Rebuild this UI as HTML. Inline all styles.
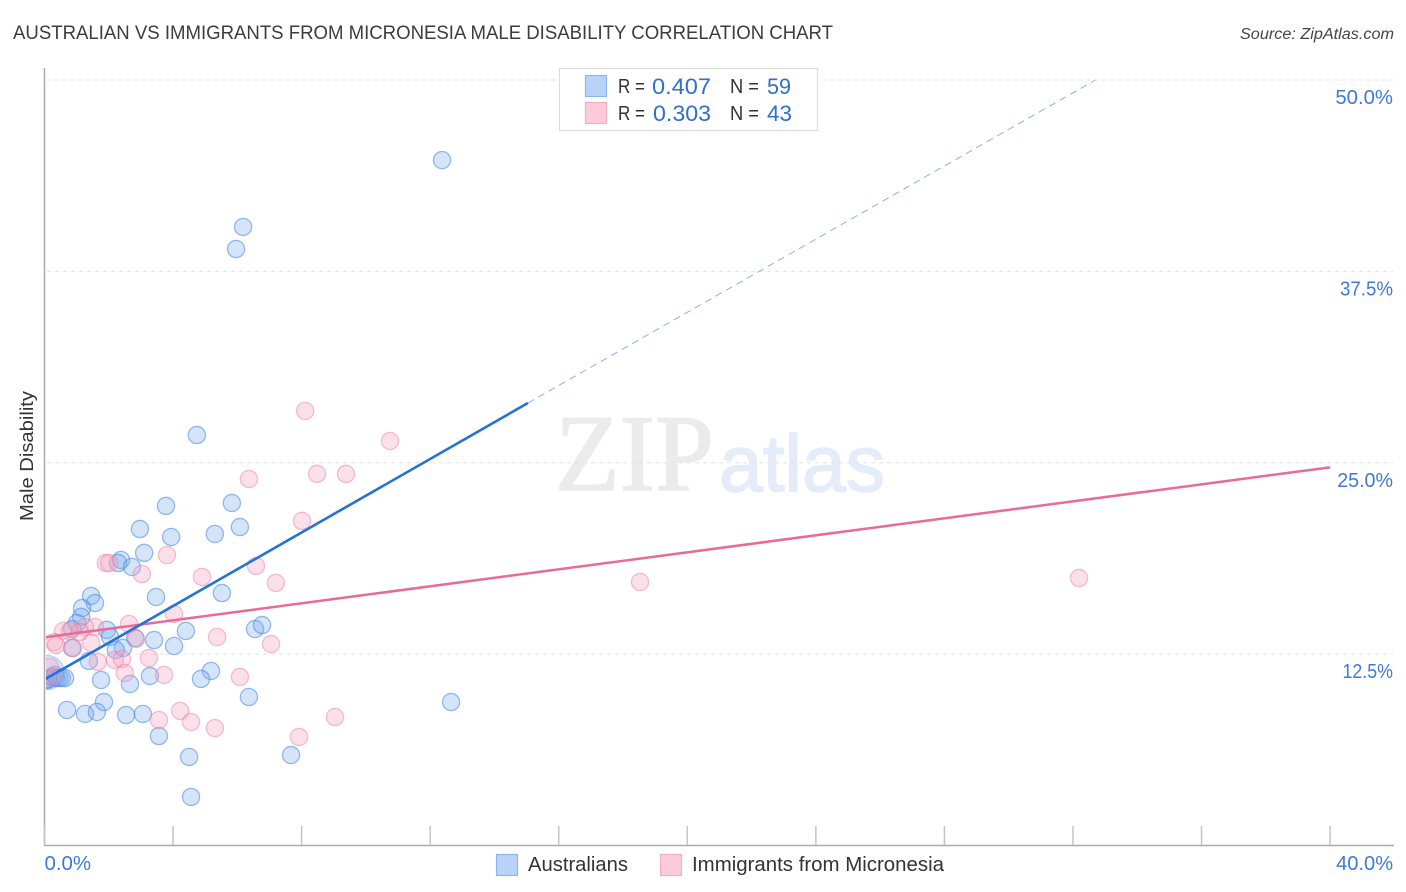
<!DOCTYPE html>
<html lang="en">
<head>
<meta charset="utf-8">
<title>Australian vs Immigrants from Micronesia Male Disability Correlation Chart</title>
<style>
html,body{margin:0;padding:0;background:#fff;}
body{width:1406px;height:892px;overflow:hidden;}
svg{display:block;font-family:"Liberation Sans",sans-serif;}
</style>
</head>
<body>
<svg id="chart" xmlns="http://www.w3.org/2000/svg" width="1406" height="892" viewBox="0 0 1406 892">
  <defs>
    <clipPath id="plot-clip"><rect x="46" y="60" width="1350" height="785"></rect></clipPath>
  </defs>
  <rect x="0" y="0" width="1406" height="892" fill="#ffffff"></rect>
  <text x="13" y="39" font-size="19.5" fill="#3c3c3c" textLength="820" lengthAdjust="spacingAndGlyphs">AUSTRALIAN VS IMMIGRANTS FROM MICRONESIA MALE DISABILITY CORRELATION CHART</text>
  <text x="1394" y="39" font-size="15.5" font-style="italic" fill="#444444" text-anchor="end" textLength="154" lengthAdjust="spacingAndGlyphs">Source: ZipAtlas.com</text>

  <g>
    <text x="555" y="490" font-family="'Liberation Serif',serif" font-size="109" fill="#ebebeb" stroke="#ebebeb" stroke-width="1.5" textLength="159" lengthAdjust="spacingAndGlyphs">ZIP</text>
    <text x="719" y="491" font-size="80" fill="#e3ecf8" stroke="#e3ecf8" stroke-width="1.5" textLength="166" lengthAdjust="spacingAndGlyphs">atlas</text>
  </g>

  <g id="grid"></g>
  <g id="axes"></g>
  <g id="points-blue" clip-path="url(#plot-clip)"></g>
  <g id="points-pink" clip-path="url(#plot-clip)"></g>
  <g id="trends" clip-path="url(#plot-clip)"></g>
  <g id="tick-labels"></g>

  <text transform="translate(33 456) rotate(-90)" font-size="18.5" fill="#333333" text-anchor="middle" textLength="130" lengthAdjust="spacingAndGlyphs">Male Disability</text>

  <g>
    <rect x="559.5" y="68.5" width="258" height="62" fill="#ffffff" stroke="#dddddd" stroke-width="1.2"></rect>
    <rect x="585.5" y="75.5" width="21" height="21" fill="#b8d3f7" stroke="#8fb6ec" stroke-width="1.2"></rect>
    <text x="618" y="93" font-size="20" fill="#333333" textLength="27" lengthAdjust="spacingAndGlyphs">R =</text>
    <text x="652" y="94" font-size="22" fill="#2f6fd0" textLength="59" lengthAdjust="spacingAndGlyphs">0.407</text>
    <text x="730" y="93" font-size="20" fill="#333333" textLength="29" lengthAdjust="spacingAndGlyphs">N =</text>
    <text x="767" y="94" font-size="22" fill="#2f6fd0" textLength="24" lengthAdjust="spacingAndGlyphs">59</text>
    <rect x="585.5" y="102.5" width="21" height="21" fill="#fccbdb" stroke="#f4adc5" stroke-width="1.2"></rect>
    <text x="618" y="120" font-size="20" fill="#333333" textLength="27" lengthAdjust="spacingAndGlyphs">R =</text>
    <text x="653" y="121" font-size="22" fill="#2f6fd0" textLength="58" lengthAdjust="spacingAndGlyphs">0.303</text>
    <text x="730" y="120" font-size="20" fill="#333333" textLength="29" lengthAdjust="spacingAndGlyphs">N =</text>
    <text x="767" y="121" font-size="22" fill="#2f6fd0" textLength="25" lengthAdjust="spacingAndGlyphs">43</text>
  </g>

  <g>
    <rect x="496.5" y="854.5" width="21" height="21" fill="#b8d3f7" stroke="#8fb6ec" stroke-width="1.2"></rect>
    <text x="528" y="871" font-size="20" fill="#333333" textLength="100" lengthAdjust="spacingAndGlyphs">Australians</text>
    <rect x="660.5" y="854.5" width="21" height="21" fill="#fccbdb" stroke="#f4adc5" stroke-width="1.2"></rect>
    <text x="692" y="871" font-size="20" fill="#333333" textLength="252" lengthAdjust="spacingAndGlyphs">Immigrants from Micronesia</text>
  </g>
</svg>
<script>
const australiansX = [12.37,6.18,5.96,4.74,3.78,5.83,2.97,6.08,5.30,3.94,3.10,2.38,2.29,2.72,5.52,3.47,1.45,1.57,1.17,1.14,1.01,0.86,1.94,2.04,2.82,3.41,4.40,4.03,6.55,6.77,0.86,2.44,2.22,1.38,5.18,4.87,3.28,1.76,2.66,6.36,1.85,0.70,1.26,1.63,2.54,3.06,3.56,4.50,7.67,4.56,12.65,0.08,0.14,0.23,0.33,0.36,0.45,0.54,0.64];
const australiansY = [44.77,40.40,38.96,26.81,22.18,22.37,20.67,20.80,20.35,20.15,19.11,18.65,18.45,18.19,16.49,16.23,16.30,15.84,15.51,14.93,14.53,14.14,14.08,13.62,13.55,13.42,14.01,13.03,14.14,14.40,12.90,12.90,12.77,12.05,11.40,10.88,11.07,10.81,10.55,9.70,9.37,8.85,8.59,8.72,8.52,8.59,7.15,5.78,5.91,3.17,9.37,10.81,10.88,11.01,11.14,10.94,10.94,10.94,10.94];
const australiansLargeX = [0.08];
const australiansLargeY = [11.3];
const micronesiaX = [8.11,10.75,8.48,9.38,6.36,8.01,18.53,32.19,1.91,2.01,3.81,3.03,4.90,6.58,7.20,4.03,2.63,1.57,0.58,0.79,1.26,0.30,0.36,1.10,1.45,0.89,2.85,5.37,7.05,1.66,2.19,2.41,3.25,2.50,3.72,6.08,0.17,0.23,4.22,3.56,4.56,5.30,7.92,9.04];
const micronesiaY = [28.38,26.42,24.27,24.27,23.94,21.20,17.21,17.47,18.45,18.45,18.97,17.73,17.54,18.26,17.15,15.12,14.47,14.27,14.01,14.01,14.27,13.29,13.10,13.95,13.23,12.90,13.49,13.62,13.16,11.99,12.12,12.18,12.25,11.27,11.14,11.01,11.66,11.01,8.79,8.20,8.07,7.67,7.09,8.39];
const australiansTrendX = [0, 15.04];
const australiansTrendY = [10.84, 28.9];
const australiansExtensionX = [15.04, 32.7];
const australiansExtensionY = [28.9, 50];
const micronesiaTrendX = [0, 40];
const micronesiaTrendY = [13.6, 24.7];
const yGridValues = [50, 37.5, 25, 12.5];
const yTickLabels = ['50.0%', '37.5%', '25.0%', '12.5%'];
const xTickValues = [0, 4, 8, 12, 16, 20, 24, 28, 32, 36, 40];
const xEndValues = [0, 40];
const xEndLabels = ['0.0%', '40.0%'];

const SVG_NS = 'http://www.w3.org/2000/svg';
const xScale = v => 44.5 + v * 32.14;
const yScale = v => 845.5 - v * 15.31;
const glyphWidth = {'0':12.3,'1':7,'2':10.5,'3':10,'4':12,'5':11,'7':10,'.':5,'%':17};
const labelWidth = s => s.split('').reduce((sum, c) => sum + (glyphWidth[c] || 11), 0);
const make = (tag, attrs, parentId) => {
  const el = document.createElementNS(SVG_NS, tag);
  Object.keys(attrs).forEach(k => el.setAttribute(k, attrs[k]));
  document.getElementById(parentId).appendChild(el);
  return el;
};

yGridValues.forEach((v, i) => {
  const line = make('line', {x1: 47, x2: 1393, y1: yScale(v), y2: yScale(v), stroke: '#e2e2e2', 'stroke-width': 1, 'stroke-dasharray': '4 4'}, 'grid');
  
  
  const label = make('text', {x: 1393 - labelWidth(yTickLabels[i]), y: yScale(v) + 24, 'font-size': 20, fill: '#3f79d8', textLength: labelWidth(yTickLabels[i]), lengthAdjust: 'spacingAndGlyphs'}, 'tick-labels');
  label.textContent = yTickLabels[i];
  
  
});

const yAxis = make('line', {x1: 44.5, x2: 44.5, y1: 68, y2: 846, stroke: '#aaaaaa', 'stroke-width': 1.5}, 'axes');


const xAxis = make('line', {x1: 44, x2: 1394, y1: 845.5, y2: 845.5, stroke: '#aaaaaa', 'stroke-width': 1.5}, 'axes');


xTickValues.forEach(v => {
  const tick = make('line', {x1: xScale(v), x2: xScale(v), y1: 826, y2: 845, stroke: '#c4c4c4', 'stroke-width': 1.5}, 'axes');
  
  
});
xEndValues.forEach((v, i) => {
  const w = Math.min(labelWidth(xEndLabels[i]), 57);
  const label = make('text', {x: i === 0 ? xScale(v) : xScale(v) + 63 - w, y: 870, 'font-size': 20, fill: '#3f79d8', textLength: w, lengthAdjust: 'spacingAndGlyphs'}, 'tick-labels');
  label.textContent = xEndLabels[i];
  
  
});

australiansLargeX.forEach((v, i) => {
  const dot = make('circle', {cx: xScale(v), cy: yScale(australiansLargeY[i]), r: 17, fill: 'rgba(120,170,235,0.26)', stroke: 'rgba(90,150,230,0.4)', 'stroke-width': 1.3}, 'points-blue');
  
  
});
australiansX.forEach((v, i) => {
  const dot = make('circle', {cx: xScale(v), cy: yScale(australiansY[i]), r: 8.6, fill: 'rgba(120,170,235,0.32)', stroke: 'rgba(70,135,225,0.55)', 'stroke-width': 1.3}, 'points-blue');
  
  
});
micronesiaX.forEach((v, i) => {
  const dot = make('circle', {cx: xScale(v), cy: yScale(micronesiaY[i]), r: 8.6, fill: 'rgba(245,160,187,0.32)', stroke: 'rgba(235,130,165,0.5)', 'stroke-width': 1.3}, 'points-pink');
  
  
});

const pinkTrend = make('line', {x1: xScale(micronesiaTrendX[0]), y1: yScale(micronesiaTrendY[0]), x2: xScale(micronesiaTrendX[1]), y2: yScale(micronesiaTrendY[1]), stroke: '#ea6a97', 'stroke-width': 2.5}, 'trends');


const blueTrend = make('line', {x1: xScale(australiansTrendX[0]), y1: yScale(australiansTrendY[0]), x2: xScale(australiansTrendX[1]), y2: yScale(australiansTrendY[1]), stroke: '#2372d8', 'stroke-width': 2.6}, 'trends');


const blueExtension = make('line', {x1: xScale(australiansExtensionX[0]), y1: yScale(australiansExtensionY[0]), x2: xScale(australiansExtensionX[1]), y2: yScale(australiansExtensionY[1]), stroke: '#8bb2e0', 'stroke-width': 1, 'stroke-dasharray': '7 5'}, 'trends');


</script>
</body>
</html>
